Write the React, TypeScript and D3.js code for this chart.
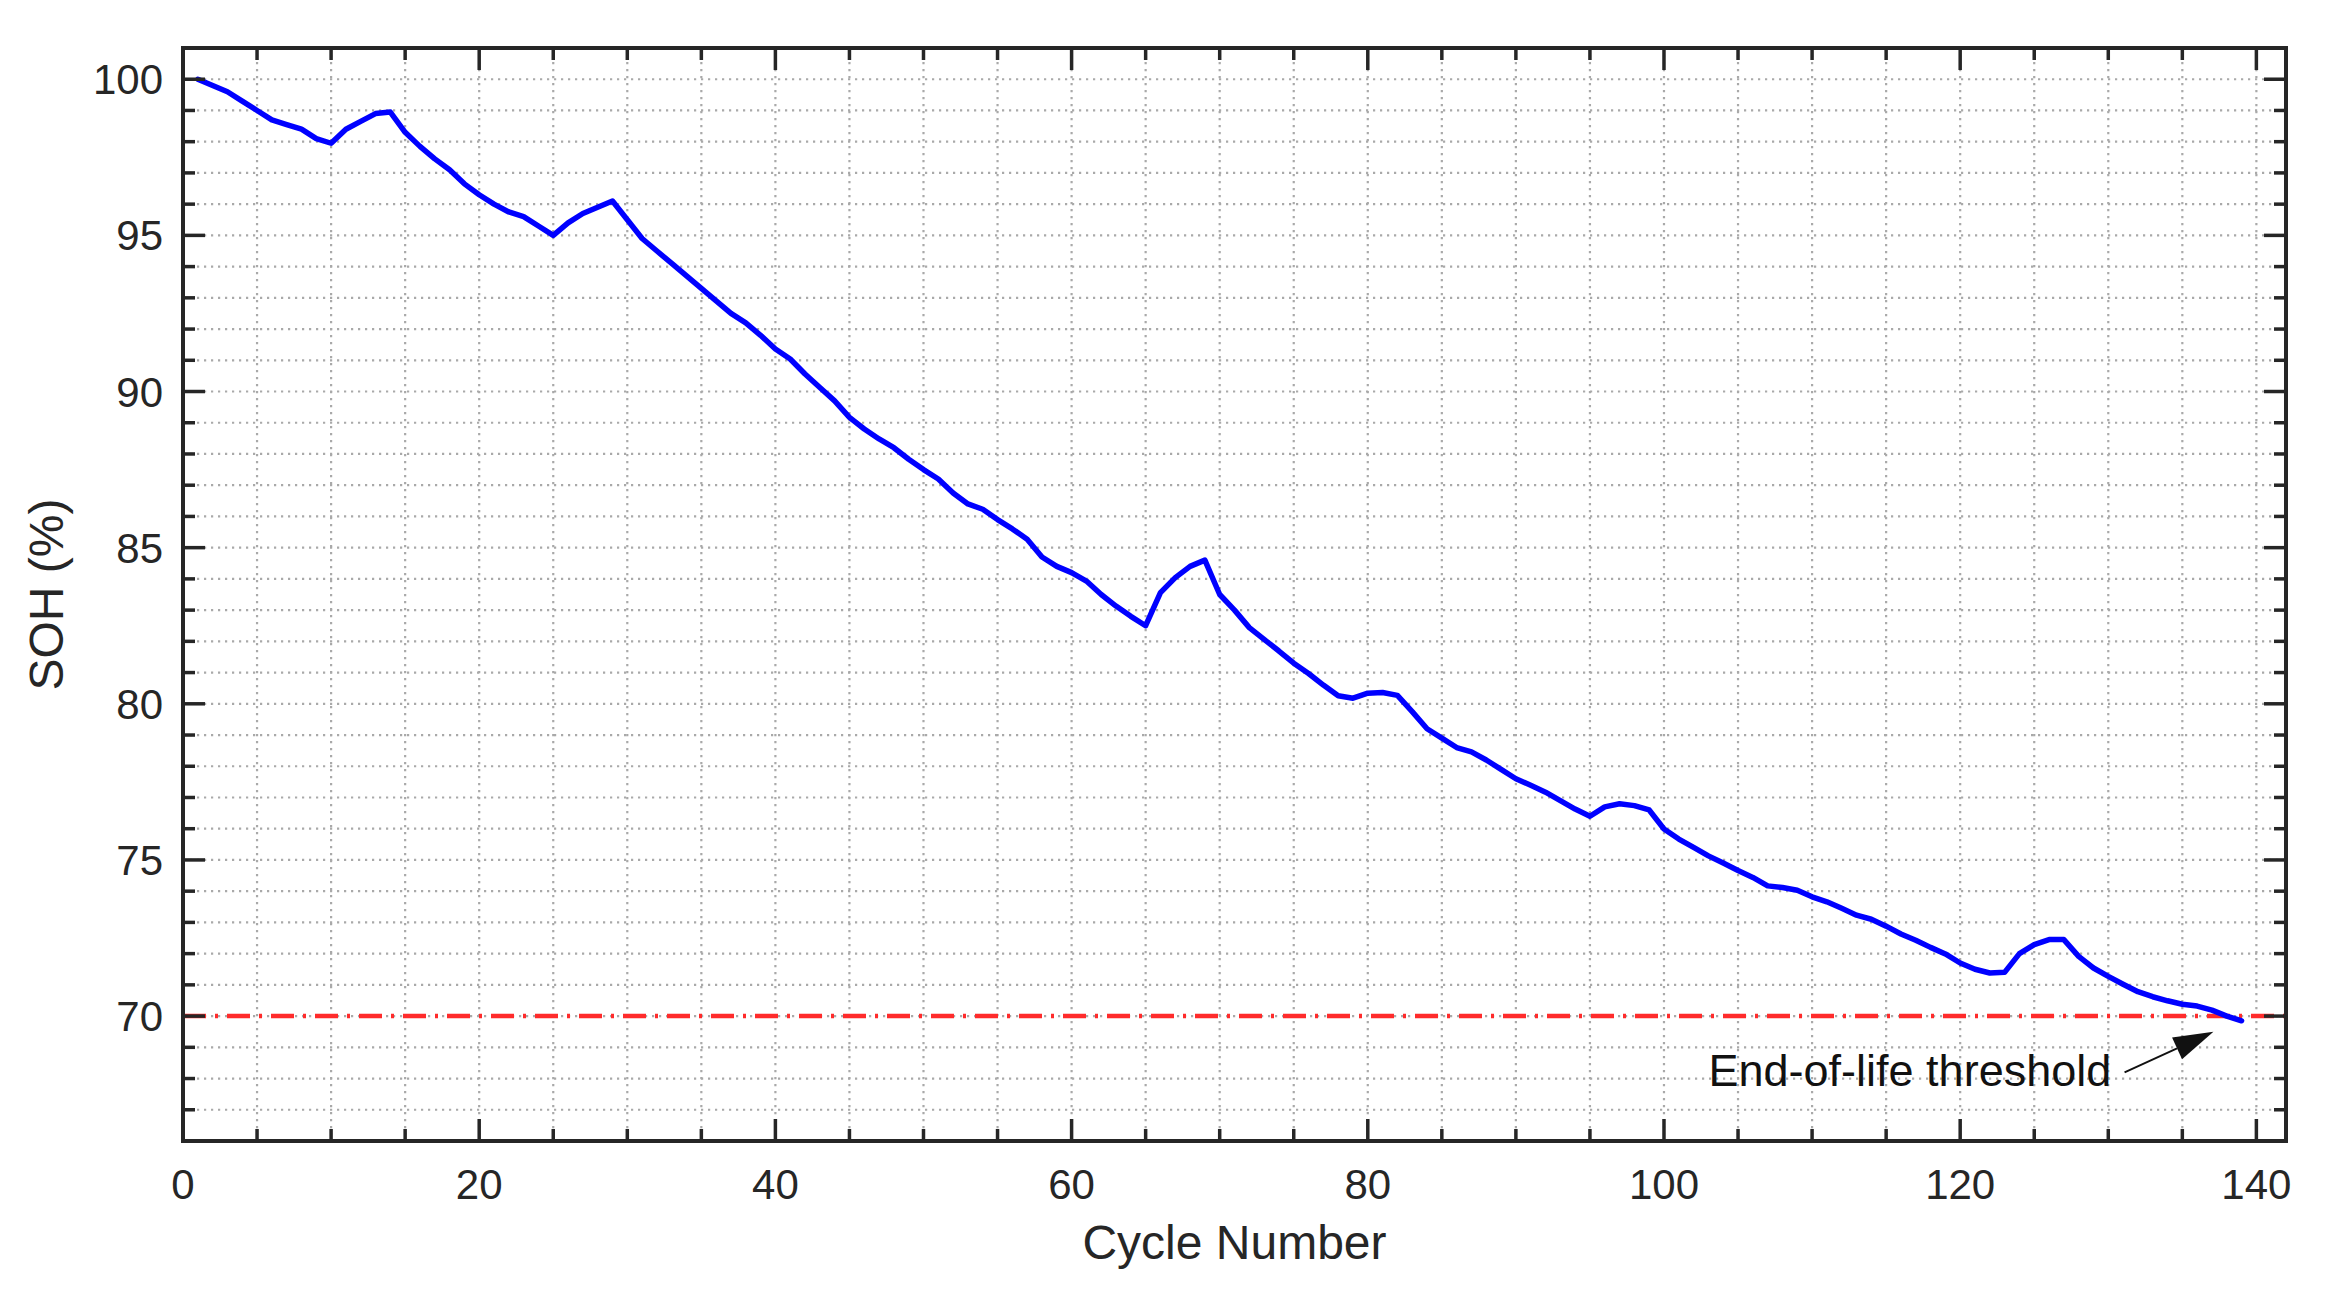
import React from 'react';
import * as d3 from 'd3';

// cycle index and measured state of health (%)
const cycles = [
  1, 2, 3, 4, 5, 6, 7, 8, 9, 10, 11, 12, 13, 14, 15, 16, 17, 18, 19, 20,
  21, 22, 23, 24, 25, 26, 27, 28, 29, 30, 31, 32, 33, 34, 35, 36, 37, 38, 39, 40,
  41, 42, 43, 44, 45, 46, 47, 48, 49, 50, 51, 52, 53, 54, 55, 56, 57, 58, 59, 60,
  61, 62, 63, 64, 65, 66, 67, 68, 69, 70, 71, 72, 73, 74, 75, 76, 77, 78, 79, 80,
  81, 82, 83, 84, 85, 86, 87, 88, 89, 90, 91, 92, 93, 94, 95, 96, 97, 98, 99, 100,
  101, 102, 103, 104, 105, 106, 107, 108, 109, 110, 111, 112, 113, 114, 115, 116, 117, 118, 119, 120,
  121, 122, 123, 124, 125, 126, 127, 128, 129, 130, 131, 132, 133, 134, 135, 136, 137, 138, 139,
];

const soh = [
  100.0, 99.8, 99.6, 99.3, 99.0, 98.7, 98.55, 98.4, 98.1, 97.95,
  98.4, 98.65, 98.9, 98.95, 98.3, 97.85, 97.45, 97.1, 96.65, 96.3,
  96.0, 95.75, 95.6, 95.3, 95.0, 95.4, 95.7, 95.9, 96.1, 95.5,
  94.9, 94.5, 94.1, 93.7, 93.3, 92.9, 92.5, 92.2, 91.8, 91.36,
  91.04, 90.56, 90.13, 89.7, 89.17, 88.8, 88.48, 88.2, 87.83, 87.5,
  87.2, 86.75, 86.4, 86.23, 85.9, 85.6, 85.27, 84.7, 84.4, 84.2,
  83.93, 83.5, 83.13, 82.8, 82.5, 83.56, 84.04, 84.4, 84.6, 83.5,
  83.0, 82.44, 82.06, 81.69, 81.3, 80.97, 80.6, 80.26, 80.18, 80.34,
  80.36, 80.27, 79.75, 79.2, 78.9, 78.6, 78.46, 78.2, 77.9, 77.6,
  77.39, 77.17, 76.9, 76.63, 76.4, 76.7, 76.8, 76.74, 76.6, 75.99,
  75.67, 75.4, 75.13, 74.9, 74.66, 74.44, 74.17, 74.12, 74.03, 73.82,
  73.66, 73.45, 73.23, 73.1, 72.88, 72.63, 72.43, 72.2, 71.99, 71.7,
  71.5, 71.38, 71.4, 72.0, 72.29, 72.45, 72.45, 71.91, 71.54, 71.27,
  71.02, 70.78, 70.62, 70.49, 70.38, 70.32, 70.19, 70.0, 69.85,
];

const xTickLabels = [0, 20, 40, 60, 80, 100, 120, 140];
const yTickLabels = [70, 75, 80, 85, 90, 95, 100];
const eolThreshold = 70;
const eolLabel = 'End-of-life threshold';

const width = 2325;
const height = 1295;
const margin = { top: 48, right: 39, bottom: 154, left: 183 };
const font = '"Liberation Sans", Arial, Helvetica, sans-serif';
const axisColor = '#262626';

const App: React.FC = () => {
  const xScale = d3.scaleLinear().domain([0, 142]).range([margin.left, width - margin.right]);
  const yScale = d3.scaleLinear().domain([66, 101]).range([height - margin.bottom, margin.top]);

  const [x0, x1] = xScale.range();
  const [y0, y1] = yScale.range();

  const points = cycles.map((c, i) => ({ c, v: soh[i] }));
  const line = d3
    .line<{ c: number; v: number }>()
    .x((d) => xScale(d.c))
    .y((d) => yScale(d.v));

  // grid every 5 cycles and every 1 %
  const xGrid = d3.range(5, 141, 5);
  const yGrid = d3.range(67, 101, 1);
  const xMinor = xGrid.filter((v) => v % 20 !== 0);
  const yMinor = yGrid.filter((v) => v % 5 !== 0);

  const majorLen = 22;
  const minorLen = 12;

  // arrow of the annotation, in data units
  const tail = { x: xScale(131.1), y: yScale(68.2) };
  const tip = { x: xScale(137.1), y: yScale(69.5) };
  const ang = Math.atan2(tip.y - tail.y, tip.x - tail.x);
  const headLen = 40;
  const headHalf = 12;
  const bx = tip.x - headLen * Math.cos(ang);
  const by = tip.y - headLen * Math.sin(ang);
  const head = [
    [tip.x, tip.y],
    [bx + headHalf * Math.sin(ang), by - headHalf * Math.cos(ang)],
    [bx - headHalf * Math.sin(ang), by + headHalf * Math.cos(ang)],
  ]
    .map((p) => p.join(','))
    .join(' ');

  return (
    <svg
      width={width}
      height={height}
      style={{ position: 'absolute', left: 0, top: 0, background: '#fff' }}
      fontFamily={font}
    >
      <rect x={0} y={0} width={width} height={height} fill="#fff" />

      {/* dotted grid */}
      <g stroke="#a9a9a9" strokeWidth={2.2} strokeDasharray="2.2 4.8">
        {xGrid.map((v) => (
          <line key={'gx' + v} x1={xScale(v)} x2={xScale(v)} y1={y1} y2={y0} />
        ))}
        {yGrid.map((v) => (
          <line key={'gy' + v} x1={x0} x2={x1} y1={yScale(v)} y2={yScale(v)} />
        ))}
      </g>

      {/* end-of-life threshold */}
      <line
        x1={x0}
        x2={x1}
        y1={yScale(eolThreshold)}
        y2={yScale(eolThreshold)}
        stroke="#ff2b2b"
        strokeWidth={4.5}
        strokeDasharray="23 9 3 9"
      />

      {/* SOH curve */}
      <path
        d={line(points) ?? ''}
        fill="none"
        stroke="#0000ff"
        strokeWidth={5.5}
        strokeLinejoin="round"
        strokeLinecap="round"
      />

      {/* ticks on all four sides, pointing inward */}
      <g stroke={axisColor} strokeWidth={3.5}>
        {xTickLabels.map((v) => (
          <g key={'xt' + v}>
            <line x1={xScale(v)} x2={xScale(v)} y1={y0} y2={y0 - majorLen} />
            <line x1={xScale(v)} x2={xScale(v)} y1={y1} y2={y1 + majorLen} />
          </g>
        ))}
        {xMinor.map((v) => (
          <g key={'xm' + v}>
            <line x1={xScale(v)} x2={xScale(v)} y1={y0} y2={y0 - minorLen} />
            <line x1={xScale(v)} x2={xScale(v)} y1={y1} y2={y1 + minorLen} />
          </g>
        ))}
        {yTickLabels.map((v) => (
          <g key={'yt' + v}>
            <line x1={x0} x2={x0 + majorLen} y1={yScale(v)} y2={yScale(v)} />
            <line x1={x1} x2={x1 - majorLen} y1={yScale(v)} y2={yScale(v)} />
          </g>
        ))}
        {yMinor.map((v) => (
          <g key={'ym' + v}>
            <line x1={x0} x2={x0 + minorLen} y1={yScale(v)} y2={yScale(v)} />
            <line x1={x1} x2={x1 - minorLen} y1={yScale(v)} y2={yScale(v)} />
          </g>
        ))}
      </g>

      {/* axes box */}
      <rect
        x={x0}
        y={y1}
        width={x1 - x0}
        height={y0 - y1}
        fill="none"
        stroke={axisColor}
        strokeWidth={4}
      />

      {/* tick labels */}
      <g fill={axisColor} fontSize={42}>
        {xTickLabels.map((v) => (
          <text key={'xl' + v} x={xScale(v)} y={y0 + 58} textAnchor="middle">
            {v}
          </text>
        ))}
        {yTickLabels.map((v) => (
          <text key={'yl' + v} x={x0 - 20} y={yScale(v) + 15} textAnchor="end">
            {v}
          </text>
        ))}
      </g>

      {/* axis titles */}
      <text x={(x0 + x1) / 2} y={y0 + 118} textAnchor="middle" fontSize={48} fill={axisColor}>
        Cycle Number
      </text>
      <text
        transform={`translate(63, ${(y0 + y1) / 2}) rotate(-90)`}
        textAnchor="middle"
        fontSize={48}
        fill={axisColor}
      >
        SOH (%)
      </text>

      {/* annotation */}
      <text x={xScale(130.2)} y={yScale(67.76)} textAnchor="end" fontSize={45} fill="#111">
        {eolLabel}
      </text>
      <line x1={tail.x} y1={tail.y} x2={bx} y2={by} stroke="#111" strokeWidth={2} />
      <polygon points={head} fill="#111" />
    </svg>
  );
};

export default App;
